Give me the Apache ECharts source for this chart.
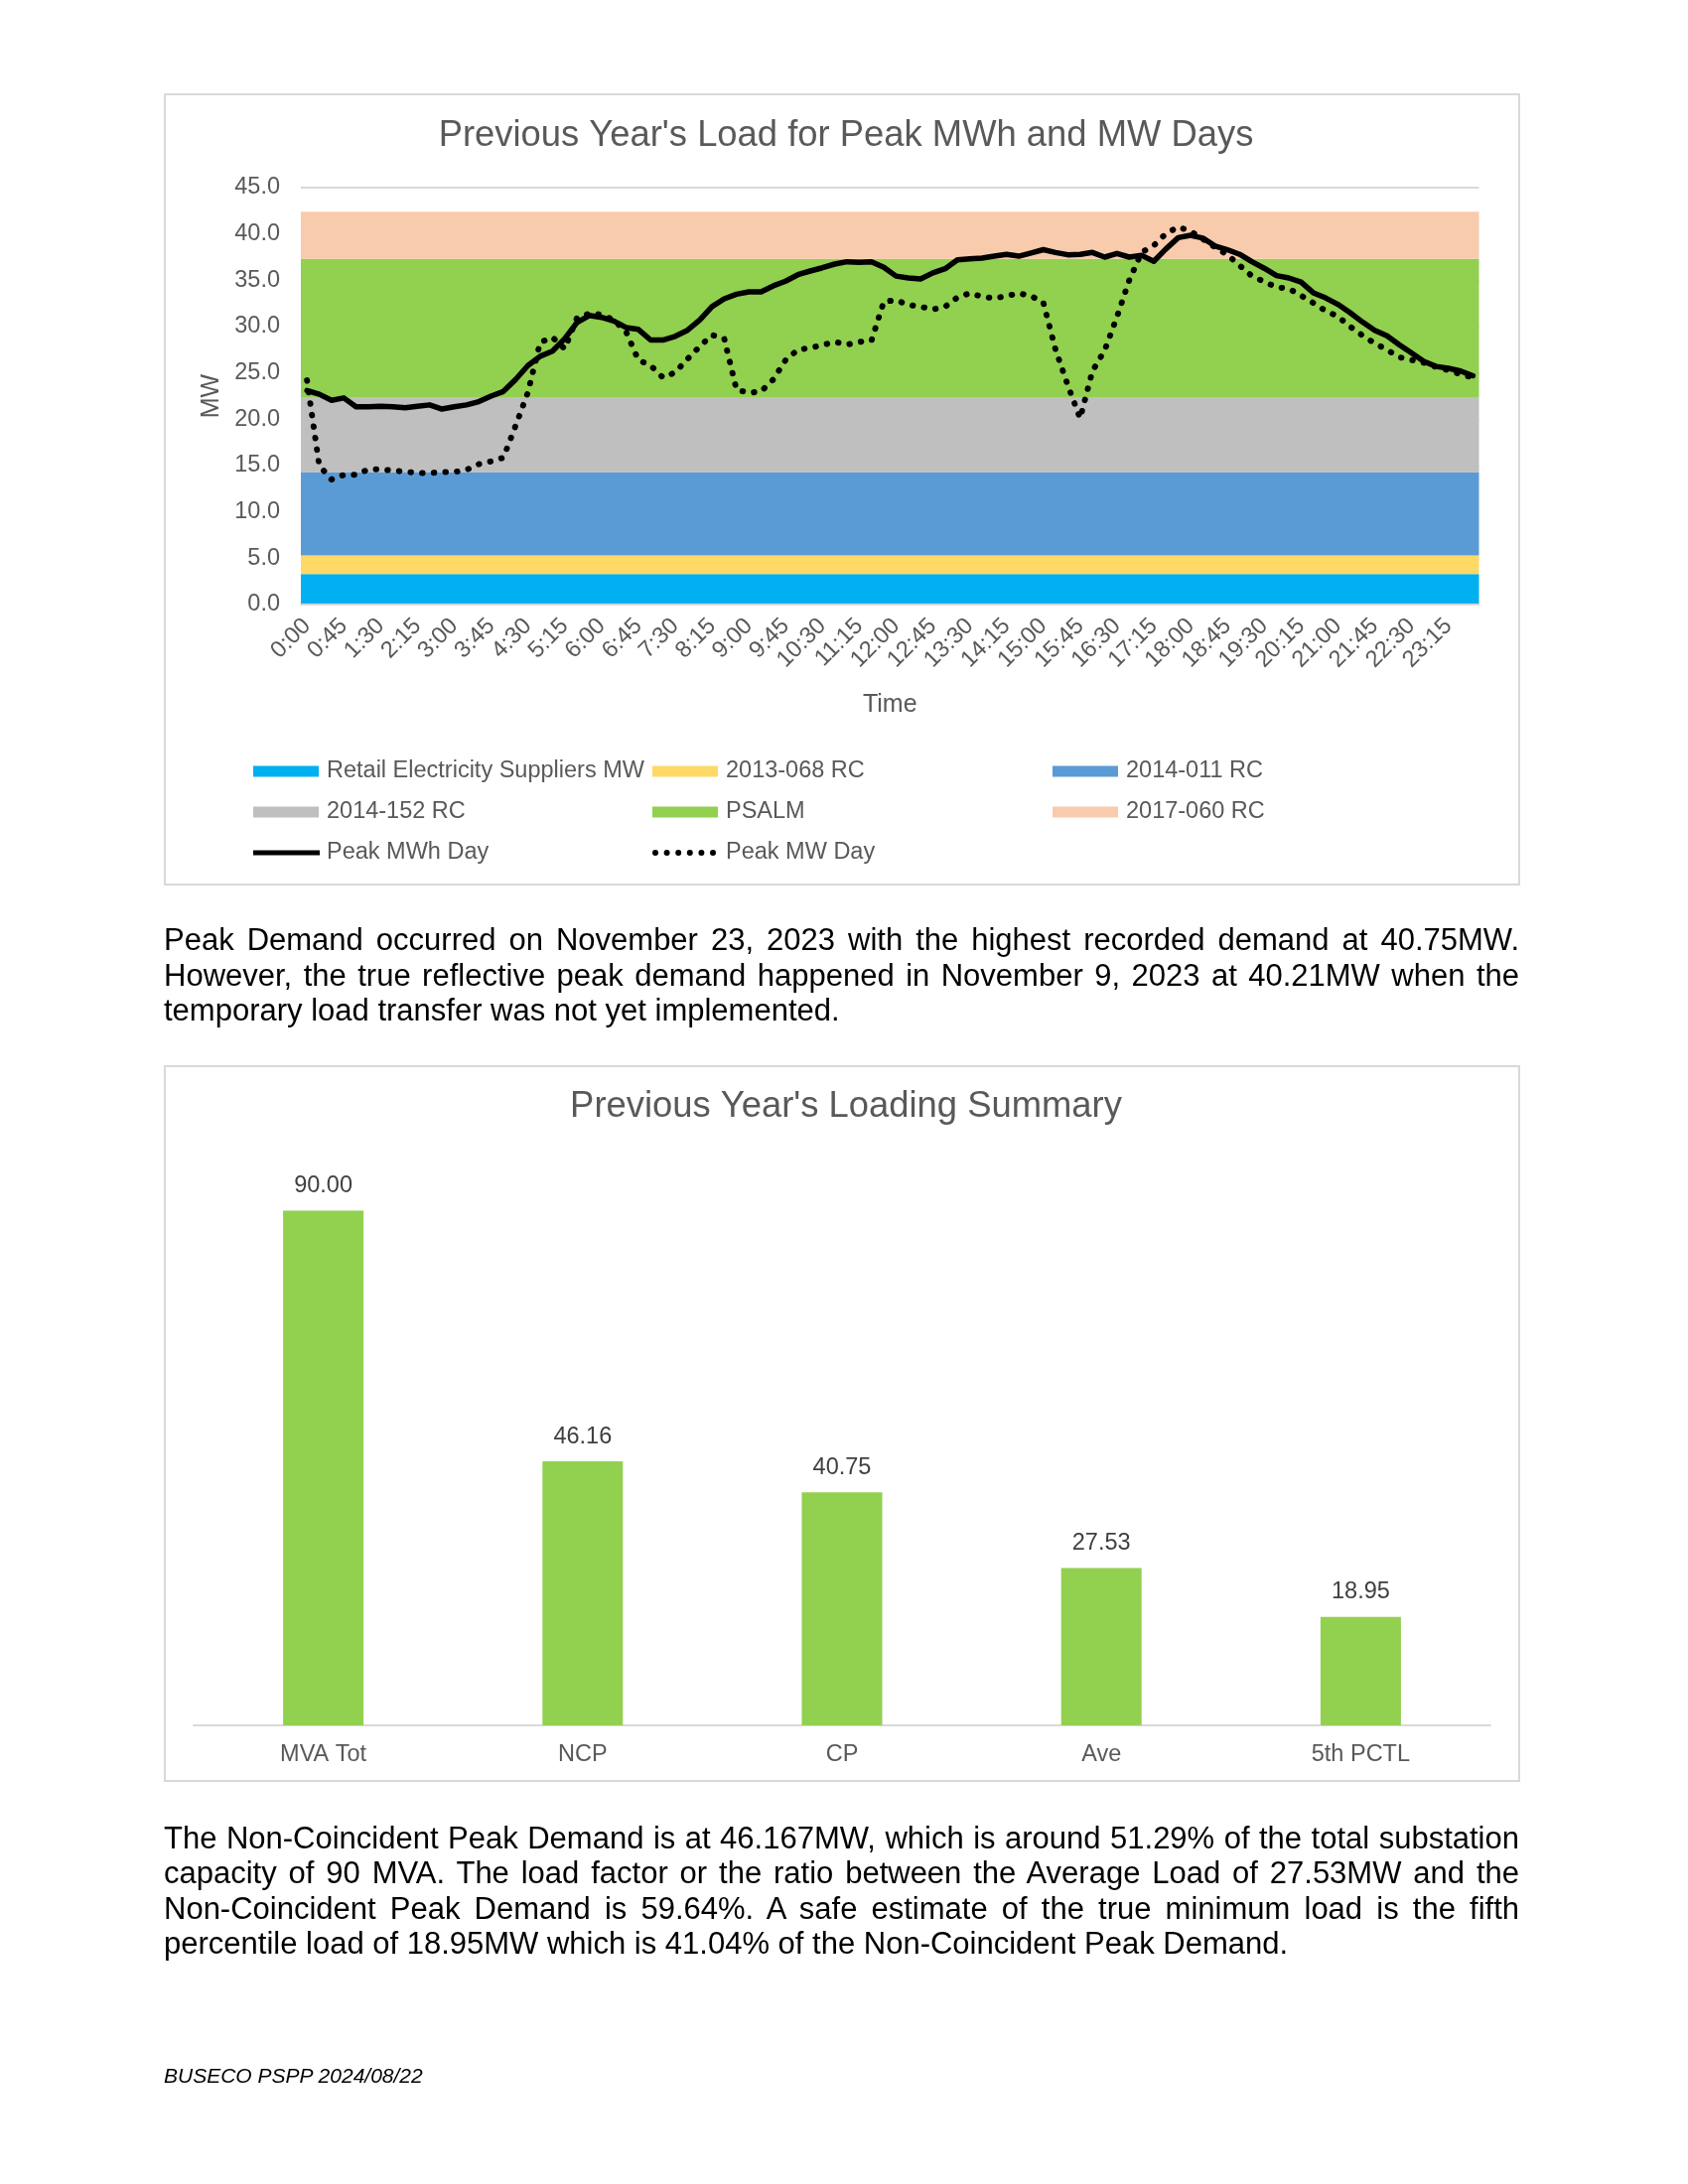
<!DOCTYPE html>
<html>
<head>
<meta charset="utf-8">
<script src="https://cdn.jsdelivr.net/npm/echarts@6.0.0/dist/echarts.min.js"></script>
<style>
  html, body { margin: 0; padding: 0; background: #ffffff; }
  #page { position: relative; width: 1700px; height: 2200px; background: #fff; overflow: hidden; }
  .box { position: absolute; border: 2px solid #D9D9D9; box-sizing: border-box; }
  #chart { position: absolute; left: 0; top: 0; width: 1700px; height: 2200px; }
  .ln { position: absolute; left: 165px; width: 1365px; height: 36px; line-height: 36px;
        font-family: "Liberation Sans", Arial, sans-serif; font-size: 31px; color: #000;
        text-align: justify; text-align-last: justify; white-space: nowrap; }
  .ln.last { text-align-last: left; }
  #foot { position: absolute; left: 165px; top: 2078px; font-family: "Liberation Sans", Arial, sans-serif;
          font-size: 21px; font-style: italic; color: #000; line-height: 26px; }
</style>
</head>
<body>
<div id="page">
  <div class="box" style="left:165px;top:94px;width:1366px;height:798px;"></div>
  <div class="box" style="left:165px;top:1073px;width:1366px;height:722px;"></div>
  <div id="chart"></div>
  <div class="ln" style="top:929px;">Peak Demand occurred on November 23, 2023 with the highest recorded demand at 40.75MW.</div>
  <div class="ln" style="top:965px;">However, the true reflective peak demand happened in November 9, 2023 at 40.21MW when the</div>
  <div class="ln last" style="top:1000px;">temporary load transfer was not yet implemented.</div>
  <div class="ln" style="top:1834px;">The Non-Coincident Peak Demand is at 46.167MW, which is around 51.29% of the total substation</div>
  <div class="ln" style="top:1869px;">capacity of 90 MVA. The load factor or the ratio between the Average Load of 27.53MW and the</div>
  <div class="ln" style="top:1905px;">Non-Coincident Peak Demand is 59.64%. A safe estimate of the true minimum load is the fifth</div>
  <div class="ln last" style="top:1940px;">percentile load of 18.95MW which is 41.04% of the Non-Coincident Peak Demand.</div>
  <div id="foot">BUSECO PSPP 2024/08/22</div>
</div>
<script>
// ---------- Data: chart 1 ----------
const times = [
  '0:00','0:15','0:30','0:45','1:00','1:15','1:30','1:45','2:00','2:15','2:30','2:45',
  '3:00','3:15','3:30','3:45','4:00','4:15','4:30','4:45','5:00','5:15','5:30','5:45',
  '6:00','6:15','6:30','6:45','7:00','7:15','7:30','7:45','8:00','8:15','8:30','8:45',
  '9:00','9:15','9:30','9:45','10:00','10:15','10:30','10:45','11:00','11:15','11:30','11:45',
  '12:00','12:15','12:30','12:45','13:00','13:15','13:30','13:45','14:00','14:15','14:30','14:45',
  '15:00','15:15','15:30','15:45','16:00','16:15','16:30','16:45','17:00','17:15','17:30','17:45',
  '18:00','18:15','18:30','18:45','19:00','19:15','19:30','19:45','20:00','20:15','20:30','20:45',
  '21:00','21:15','21:30','21:45','22:00','22:15','22:30','22:45','23:00','23:15','23:30','23:45'
];

const peakMWhDay = [
  23.1, 22.7, 22.05, 22.3, 21.35, 21.35, 21.4, 21.35, 21.25, 21.4,
  21.55, 21.1, 21.35, 21.55, 21.9, 22.5, 23.0, 24.3, 25.8, 26.8,
  27.35, 28.7, 30.45, 31.2, 31.0, 30.6, 29.9, 29.7, 28.55, 28.55,
  28.95, 29.6, 30.7, 32.15, 33.0, 33.5, 33.75, 33.75, 34.4, 34.9,
  35.6, 36.0, 36.35, 36.75, 37.0, 36.95, 37.0, 36.4, 35.45, 35.25,
  35.15, 35.8, 36.25, 37.2, 37.3, 37.4, 37.6, 37.8, 37.6, 37.95,
  38.3, 38.0, 37.75, 37.8, 38.0, 37.5, 37.9, 37.5, 37.7, 37.05,
  38.4, 39.6, 39.85, 39.55, 38.7, 38.3, 37.8, 37.0, 36.3, 35.5,
  35.25, 34.8, 33.65, 33.1, 32.4, 31.5, 30.5, 29.6, 29.0, 28.05,
  27.15, 26.25, 25.7, 25.5, 25.2, 24.7
];

const peakMWDay = [
  24.2, 15.0, 13.5, 14.0, 14.0, 14.6, 14.6, 14.45, 14.35, 14.2,
  14.2, 14.3, 14.3, 14.55, 15.15, 15.45, 15.85, 19.3, 22.9, 28.3,
  28.85, 27.6, 30.95, 31.4, 31.3, 30.7, 29.45, 26.4, 25.8, 24.5,
  25.05, 26.5, 27.85, 29.1, 28.7, 23.2, 22.85, 23.0, 24.3, 26.4,
  27.5, 27.7, 28.0, 28.35, 28.05, 28.35, 28.5, 32.7, 32.85, 32.35,
  32.15, 31.85, 32.15, 33.15, 33.6, 33.25, 33.05, 33.3, 33.6, 33.3,
  32.6, 27.5, 23.65, 20.1, 25.2, 27.45, 31.05, 35.0, 38.0, 38.75,
  40.05, 40.75, 40.3, 39.45, 38.55, 37.75, 36.6, 35.45, 34.85, 34.25,
  34.1, 33.35, 32.55, 31.7, 31.1, 30.0, 29.05, 28.2, 27.5, 26.7,
  26.4, 26.1, 25.65, 25.3, 24.85, 24.5
];

// Stacked capacity bands (MW each, bottom to top)
const bandNames = ['Retail Electricity Suppliers MW', '2013-068 RC', '2014-011 RC', '2014-152 RC', 'PSALM', '2017-060 RC'];
const bandValues = [3.3, 2.0, 9.0, 8.1, 14.9, 5.1];
const bandSpan = ['start', 'end'];

const yTicks1 = { min: 0, max: 45, interval: 5 };

// ---------- Data: chart 2 ----------
const summaryCats = ['MVA Tot', 'NCP', 'CP', 'Ave', '5th PCTL'];
const summaryValues = [90.00, 46.16, 40.75, 27.53, 18.95];

// ---------- Styles ----------
const bandColors = ['#00B0F0', '#FFD966', '#5B9BD5', '#BFBFBF', '#92D050', '#F8CBAD'];
const FONT = '"Liberation Sans", Arial, sans-serif';
const GREY = '#595959';

// dotted legend icon: six round dots
let dotPath = 'path://';
for (let k = 0; k < 6; k++) {
  const x0 = k * 11.6;
  dotPath += 'M' + x0 + ',3 A3,3 0 1,0 ' + (x0 + 6) + ',3 A3,3 0 1,0 ' + x0 + ',3 Z ';
}

const legendOrder = [
  bandNames[0], bandNames[1], bandNames[2],
  bandNames[3], bandNames[4], bandNames[5],
  'Peak MWh Day', 'Peak MW Day'
];
const legendCols = [255, 657, 1060];
const legendRows = [765, 806, 847];

const legends = legendOrder.map((name, i) => {
  const isBand = bandNames.indexOf(name) >= 0;
  const l = {
    data: [name],
    left: legendCols[i % 3],
    top: legendRows[Math.floor(i / 3)],
    padding: 0,
    itemWidth: 66,
    itemHeight: 11,
    itemGap: 0,
    selectedMode: false,
    textStyle: { fontSize: 23.5, color: GREY, fontFamily: FONT, padding: [0, 0, 0, 3] }
  };
  if (isBand) {
    l.icon = 'rect';
  } else if (name === 'Peak MWh Day') {
    l.icon = 'rect';
    l.itemHeight = 5;
    l.itemWidth = 67;
    l.textStyle.padding = [0, 0, 0, 2];
  } else {
    l.icon = dotPath;
    l.itemHeight = 6;
    l.itemWidth = 64;
    l.textStyle.padding = [0, 0, 0, 5];
  }
  return l;
});

const series = [];
bandNames.forEach((name, i) => {
  series.push({
    name: name,
    type: 'line',
    xAxisIndex: 1,
    yAxisIndex: 0,
    stack: 'bands',
    data: bandSpan.map(() => bandValues[i]),
    symbol: 'none',
    silent: true,
    lineStyle: { width: 0, color: bandColors[i] },
    itemStyle: { color: bandColors[i] },
    areaStyle: { color: bandColors[i], opacity: 1 },
    z: 1
  });
});
series.push({
  name: 'Peak MWh Day',
  type: 'line',
  xAxisIndex: 0,
  yAxisIndex: 0,
  data: peakMWhDay,
  symbol: 'none',
  silent: true,
  itemStyle: { color: '#000' },
  lineStyle: { color: '#000', width: 5.5, cap: 'round', join: 'round' },
  z: 3
});
series.push({
  name: 'Peak MW Day',
  type: 'line',
  xAxisIndex: 0,
  yAxisIndex: 0,
  data: peakMWDay,
  symbol: 'none',
  silent: true,
  itemStyle: { color: '#000' },
  lineStyle: { color: '#000', width: 6, type: [0.5, 11.2], cap: 'round', join: 'round' },
  z: 4
});
series.push({
  name: 'Loading Summary',
  type: 'bar',
  xAxisIndex: 2,
  yAxisIndex: 1,
  data: summaryValues,
  barWidth: 81,
  silent: true,
  itemStyle: { color: '#92D050' },
  label: {
    show: true, position: 'top', distance: 13,
    formatter: p => Number(p.value).toFixed(2),
    fontSize: 23.5, color: '#404040', fontFamily: FONT
  }
});

const option = {
  animation: false,
  backgroundColor: 'transparent',
  textStyle: { fontFamily: FONT },
  title: [
    { text: "Previous Year's Load for Peak MWh and MW Days", left: 847, top: 114, textAlign: 'center',
      textStyle: { fontSize: 36.4, fontWeight: 'normal', color: GREY, fontFamily: FONT } },
    { text: "Previous Year's Loading Summary", left: 847, top: 1092, textAlign: 'center',
      textStyle: { fontSize: 36.4, fontWeight: 'normal', color: GREY, fontFamily: FONT } }
  ],
  legend: legends,
  tooltip: { show: false },
  grid: [
    { left: 303, top: 189, width: 1186.5, height: 420, containLabel: false, outerBoundsMode: 'none' },
    { left: 195, top: 1162, width: 1306, height: 576, containLabel: false, outerBoundsMode: 'none' }
  ],
  xAxis: [
    {
      gridIndex: 0, type: 'category', data: times, boundaryGap: true,
      axisLine: { show: true, lineStyle: { color: '#D9D9D9', width: 2 } },
      axisTick: { show: false },
      splitLine: { show: false },
      axisLabel: { interval: 2, rotate: 45, fontSize: 23.5, color: GREY, margin: 18, fontFamily: FONT },
      name: 'Time', nameLocation: 'middle', nameGap: 89,
      nameTextStyle: { fontSize: 25, color: GREY, fontFamily: FONT },
      z: 5
    },
    {
      gridIndex: 0, type: 'category', data: bandSpan, boundaryGap: false, show: false
    },
    {
      gridIndex: 1, type: 'category', data: summaryCats,
      axisLine: { show: true, lineStyle: { color: '#D9D9D9', width: 2 } },
      axisTick: { show: false },
      axisLabel: { fontSize: 23.5, color: GREY, margin: 18, fontFamily: FONT }
    }
  ],
  yAxis: [
    {
      gridIndex: 0, type: 'value', min: yTicks1.min, max: yTicks1.max, interval: yTicks1.interval,
      axisLine: { show: false }, axisTick: { show: false },
      splitLine: { show: true, lineStyle: { color: '#D9D9D9', width: 2 } },
      axisLabel: { formatter: v => v.toFixed(1), fontSize: 23.5, color: GREY, margin: 21, fontFamily: FONT },
      name: 'MW', nameLocation: 'middle', nameGap: 75, nameRotate: 90,
      nameTextStyle: { fontSize: 25, color: GREY, fontFamily: FONT }
    },
    {
      gridIndex: 1, type: 'value', min: 0, max: 100, show: false,
      splitLine: { show: false }
    }
  ],
  series: series
};

const chart = echarts.init(document.getElementById('chart'), null, { renderer: 'canvas', width: 1700, height: 2200 });
chart.setOption(option);
</script>
</body>
</html>
